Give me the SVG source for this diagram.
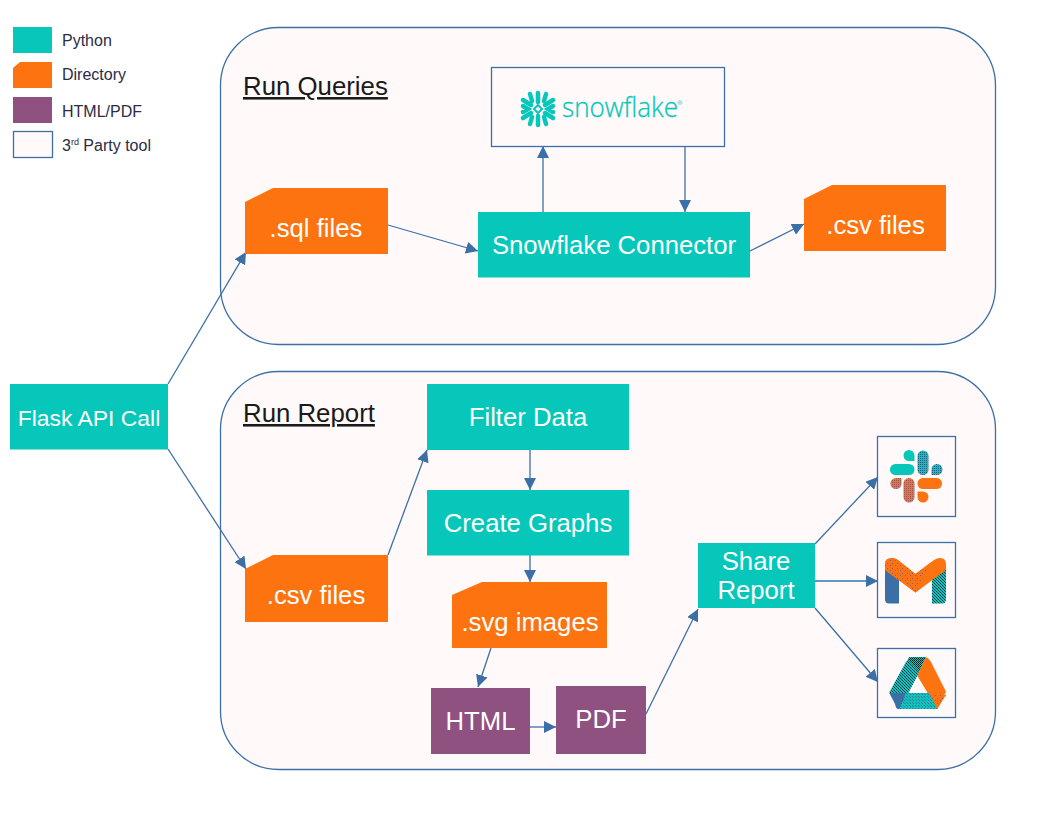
<svg xmlns="http://www.w3.org/2000/svg" width="1056" height="816" viewBox="0 0 1056 816">
<style>
text{font-family:"Liberation Sans",Arial,sans-serif}
.py{fill:#06c7ba}.dir{fill:#fd730f}.doc{fill:#8f5180}
.tool{fill:#fff9f9;stroke:#3b70a6;stroke-width:1.3}
.lbl{fill:#fff;font-size:25.700px;text-anchor:middle}
.leg{fill:#2b2b45;font-size:16px}
.ttl{fill:#1a1a1a;font-size:25.800px;text-decoration:underline}
.c{fill:none;stroke:#3b70a6;stroke-width:1.3;marker-end:url(#a)}
</style>
<defs>
<marker id="a" markerUnits="userSpaceOnUse" markerWidth="13" markerHeight="12" refX="12" refY="6" orient="auto"><path d="M0 0L12 6L0 12Z" fill="#3b70a6"/></marker>
<pattern id="dt" width="2" height="2" patternUnits="userSpaceOnUse"><rect width="2" height="2" fill="#06c7ba"/><rect width="1" height="1" fill="#3f4a80"/></pattern>
<pattern id="dk" width="3" height="3" patternUnits="userSpaceOnUse"><rect width="3" height="3" fill="#06c7ba"/><rect width="1" height="1" fill="#15304a"/><rect x="1" y="1" width="1" height="1" fill="#15304a"/><rect x="2" y="2" width="1" height="1" fill="#15304a"/></pattern>
<pattern id="dd" width="2" height="2" patternUnits="userSpaceOnUse"><rect width="2" height="2" fill="#06c7ba"/><rect width="1" height="1" fill="#111"/><rect x="1" y="1" width="1" height="1" fill="#111"/></pattern>
<pattern id="db" width="3" height="3" patternUnits="userSpaceOnUse"><rect width="3" height="3" fill="#06c7ba"/><rect width="1" height="1" fill="#3b70a6"/><rect x="1" y="1" width="1" height="1" fill="#3b70a6"/></pattern>
<pattern id="do" width="2" height="2" patternUnits="userSpaceOnUse"><rect width="2" height="2" fill="#fd730f"/><rect width="1" height="1" fill="#7d5a96"/></pattern>
<pattern id="ds" width="5" height="5" patternUnits="userSpaceOnUse"><rect width="5" height="5" fill="#fd730f"/><rect width="1" height="1" fill="#7d5a96"/><rect x="2" y="3" width="1" height="1" fill="#7d5a96"/></pattern>
</defs>
<rect width="1056" height="816" fill="#fff"/>

<g id="legend">
<rect class="py" x="13" y="27" width="39" height="26"/>
<path class="dir" d="M13 68L20 62H52V88H13Z"/>
<rect class="doc" x="13" y="97" width="39" height="26"/>
<rect class="tool" x="13.500" y="131.500" width="39" height="26"/>
<text class="leg" x="62" y="45.500">Python</text>
<text class="leg" x="62" y="79.500">Directory</text>
<text class="leg" x="62" y="116.500">HTML/PDF</text>
<text class="leg" x="62" y="150.500">3<tspan font-size="9" dy="-6">rd</tspan><tspan dy="6"> Party tool</tspan></text>
</g>

<g id="run-queries">
<rect class="tool" x="220.500" y="27.500" width="775" height="317" rx="58"/>
<text class="ttl" x="243" y="95">Run Queries</text>
</g>
<g id="run-report">
<rect class="tool" x="220.500" y="371.500" width="775" height="398" rx="58"/>
<text class="ttl" x="243" y="422">Run Report</text>
</g>

<g id="connectors">
<path class="c" d="M168 384L246 252"/>
<path class="c" d="M168 449L246 569"/>
<path class="c" d="M388 225L478 251"/>
<path class="c" d="M543 212V146"/>
<path class="c" d="M685 146V212"/>
<path class="c" d="M750 251L804 224"/>
<path class="c" d="M388 555L427 450"/>
<path class="c" d="M530 450V490"/>
<path class="c" d="M530 555V582"/>
<path class="c" d="M491 648L478 687"/>
<path class="c" d="M530 727H556"/>
<path class="c" d="M646 714L698 609"/>
<path class="c" d="M815 544L878 477"/>
<path class="c" d="M815 581H878"/>
<path class="c" d="M815 608L878 682"/>
</g>

<g id="snowflake">
<rect class="tool" x="491.500" y="67.500" width="233" height="79"/>
<g stroke="#06c7ba" stroke-width="4.500" stroke-linecap="round" fill="none">
<path d="M538 93V102M538 116V125"/>
<path d="M523 100L531 105M545 113L553 118M523 118L531 113M545 105L553 100"/>
<path d="M530 94L532 101M546 94L544 101M530 124L532 117M546 124L544 117"/>
<path d="M523 106L528 109L523 112M553 106L548 109L553 112"/>
</g>
<path d="M538 105L542 109L538 113L534 109Z" fill="none" stroke="#06c7ba" stroke-width="2"/>
<text x="562" y="117" font-size="27.500" fill="#06c7ba" stroke="#06c7ba" stroke-width="0.300" style="font-family:'Open Sans','Liberation Sans',sans-serif;font-weight:300" textLength="116" lengthAdjust="spacingAndGlyphs">snowflake</text>
<circle cx="680" cy="102.500" r="2.500" fill="#bcdede"/>
</g>

<g id="sql-files"><path class="dir" d="M245 202L273 188H388V254H245Z"/><text class="lbl" x="316" y="237">.sql files</text></g>
<g id="snowflake-connector"><rect class="py" x="478" y="212" width="272" height="65.500"/><text class="lbl" x="614" y="254">Snowflake Connector</text></g>
<g id="csv-files-1"><path class="dir" d="M804 199L832 185H946V251H804Z"/><text class="lbl" x="875.500" y="234">.csv files</text></g>
<g id="flask"><rect class="py" x="10" y="384" width="158" height="65.500"/><text class="lbl" x="89" y="426" style="font-size:22.900px">Flask API Call</text></g>
<g id="filter-data"><rect class="py" x="427" y="384" width="202" height="66"/><text class="lbl" x="528" y="426">Filter Data</text></g>
<g id="create-graphs"><rect class="py" x="427" y="490" width="202" height="65.500"/><text class="lbl" x="528" y="532">Create Graphs</text></g>
<g id="csv-files-2"><path class="dir" d="M245 569L273 555H388V622H245Z"/><text class="lbl" x="316" y="604">.csv files</text></g>
<g id="svg-images"><path class="dir" d="M452 595L482 582H607V648H452Z"/><text class="lbl" x="530" y="631">.svg images</text></g>
<g id="html"><rect class="doc" x="431" y="688" width="99" height="66"/><text class="lbl" x="480.500" y="730">HTML</text></g>
<g id="pdf"><rect class="doc" x="556" y="686" width="90" height="68"/><text class="lbl" x="601" y="728">PDF</text></g>
<g id="share-report"><rect class="py" x="698" y="543" width="117" height="65"/><text class="lbl" x="756" y="570">Share</text><text class="lbl" x="756" y="599">Report</text></g>

<g id="slack">
<rect class="tool" x="877.500" y="436.500" width="78" height="80"/>
<rect class="py" x="890" y="464" width="24.500" height="11" rx="5.500"/>
<path class="py" d="M909 450a5.500 5.500 0 0 1 5.500 5.500V461H909a5.500 5.500 0 0 1 0-11Z"/>
<rect fill="url(#dt)" x="917.500" y="450.500" width="11" height="24.500" rx="5.500"/>
<path fill="url(#dt)" d="M937 464a5.500 5.500 0 0 1 0 11H931.500V469.500A5.500 5.500 0 0 1 937 464Z"/>
<path fill="url(#do)" d="M896 478H901.500V483.500A5.500 5.500 0 1 1 896 478Z"/>
<rect fill="url(#do)" x="903.500" y="478" width="11" height="24.500" rx="5.500"/>
<rect class="dir" x="917.500" y="478" width="24.500" height="11" rx="5.500"/>
<path class="dir" d="M917.500 491.500H923a5.500 5.500 0 1 1-5.500 5.500Z"/>
</g>

<g id="gmail">
<rect class="tool" x="877.500" y="542.500" width="78" height="75"/>
<path d="M885 568L899 578V603.500H889Q885 603.500 885 599Z" fill="#3b70a6"/>
<path d="M946 568L932 578V603.500H942Q946 603.500 946 599Z" fill="url(#dk)"/>
<path class="dir" d="M885 570V564Q885 558 892 558Q895 558 898 560L915.500 574L934 560Q937 558 940 558Q946 558 946 564V570L915.500 592.500Z"/>
<path fill="url(#ds)" d="M885 570V564Q885 558 892 558Q895 558 898 560L915.500 574L930 563L915.500 592.500Z"/>
</g>

<g id="drive">
<rect class="tool" x="877.500" y="648.500" width="78" height="69"/>
<path fill="url(#dk)" d="M889.300 692.300L906 662Q909 657.300 913 657.300H925.700L917.300 675.700L900 709Z"/>
<path fill="url(#dd)" d="M909 657.300H925.700L919 671L908 660Z"/>
<path class="dir" d="M925.700 657.300Q928 657.300 931 662L946 691.700L937.300 709L917.300 675.700Z"/>
<path fill="#3b70a6" d="M889.300 693H906L899.500 709H898Q896 709 895 704Z"/>
<path fill="url(#db)" d="M906 693H929.300L937.300 709H899.500Z"/>
<path fill="url(#ds)" d="M930 695H946L937.300 709Z"/>
</g>
</svg>
